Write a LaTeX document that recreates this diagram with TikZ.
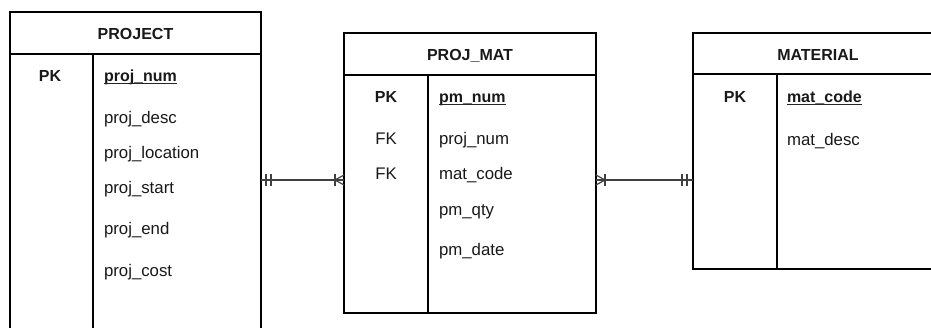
\documentclass[tikz,border=0pt]{standalone}
\usepackage{fontspec}
\setmainfont{Liberation Sans}
\begin{document}
\begin{tikzpicture}[x=1pt,y=-1pt,
  tbl/.style={draw=black,line width=1.1pt,rectangle,anchor=north west,inner sep=0pt,outer sep=0pt},
  sep/.style={draw=black,line width=1.1pt},
  txt/.style={inner sep=0pt,outer sep=0pt,anchor=base west,font=\fontsize{16.8}{20}\selectfont,text=black!90},
  bold/.style={inner sep=0pt,outer sep=0pt,anchor=base,font=\fontsize{16}{19}\selectfont\bfseries,text=black!90},
  key/.style={inner sep=0pt,outer sep=0pt,anchor=base west,font=\fontsize{16}{19}\selectfont\bfseries,text=black!90},
  ul/.style={draw=black!85,line width=0.9pt},
  rel/.style={draw=black!75,line width=1.2pt}]
\useasboundingbox (0,0) rectangle (931,327);
\fill[white] (0,0) rectangle (931,327);

% PROJECT
\node[tbl,minimum width=251pt,minimum height=340pt] (project) at (10,12) {};
\draw[sep] ([yshift=-42pt]project.north west) -- ([yshift=-42pt]project.north east);
\draw[sep] ([xshift=83pt,yshift=-42pt]project.north west) -- ([xshift=83pt]project.south west);
\node[bold] (ptitle) at (135.5,39) {PROJECT};
\node[bold] (ppk) at (50,81.5) {PK};
\node[key] (pnum) at (104,81.5) {proj\_num};
\draw[ul] ([yshift=-2pt]pnum.base west) -- ([yshift=-2pt]pnum.base east);
\node[txt] (pdesc) at (104,123.5) {proj\_desc};
\node[txt] (ploc) at (104,158.5) {proj\_location};
\node[txt] (pstart) at (104,193) {proj\_start};
\node[txt] (pend) at (104,234.5) {proj\_end};
\node[txt] (pcost) at (104,276) {proj\_cost};

% PROJ_MAT
\node[tbl,minimum width=252pt,minimum height=280pt] (pm) at (344,33) {};
\draw[sep] ([yshift=-42pt]pm.north west) -- ([yshift=-42pt]pm.north east);
\draw[sep] ([xshift=84pt,yshift=-42pt]pm.north west) -- ([xshift=84pt]pm.south west);
\node[bold] (mtitle) at (470,60) {PROJ\_MAT};
\node[bold] (mpk) at (386,102) {PK};
\node[key] (mnum) at (439,102) {pm\_num};
\draw[ul] ([yshift=-2pt]mnum.base west) -- ([yshift=-2pt]mnum.base east);
\node[txt,anchor=base] (mfk1) at (386,144) {FK};
\node[txt] (mproj) at (439,144) {proj\_num};
\node[txt,anchor=base] (mfk2) at (386,179.3) {FK};
\node[txt] (mmat) at (439,179.3) {mat\_code};
\node[txt] (mqty) at (439,215) {pm\_qty};
\node[txt] (mdate) at (439,255) {pm\_date};

% MATERIAL
\node[tbl,minimum width=250pt,minimum height=236pt] (material) at (693,33) {};
\draw[sep] ([yshift=-41pt]material.north west) -- ([yshift=-41pt]material.north east);
\draw[sep] ([xshift=84pt,yshift=-41pt]material.north west) -- ([xshift=84pt]material.south west);
\node[bold] (atitle) at (818,60.5) {MATERIAL};
\node[bold] (apk) at (735,102.5) {PK};
\node[key] (acode) at (787,102.5) {mat\_code};
\draw[ul] ([yshift=-2pt]acode.base west) -- ([yshift=-2pt]acode.base east);
\node[txt] (adesc) at (787,145) {mat\_desc};

% relationships
\coordinate (e1) at (project.east |- 0,180);
\coordinate (e2) at (pm.west |- 0,180);
\coordinate (e3) at (pm.east |- 0,180);
\coordinate (e4) at (material.west |- 0,180);
\draw[rel] (e1) -- (e2);
\draw[rel] (e1) ++(5,-6) -- ++(0,12);
\draw[rel] (e1) ++(10,-6) -- ++(0,12);
\draw[rel] (e2) ++(-9,-6) -- ++(0,12);
\draw[rel] (e2) ++(0,-5) -- ++(-9,5) -- ++(9,5);
\draw[rel] (e3) -- (e4);
\draw[rel] (e3) ++(9,-6) -- ++(0,12);
\draw[rel] (e3) ++(0,-5) -- ++(9,5) -- ++(-9,5);
\draw[rel] (e4) ++(-11,-6) -- ++(0,12);
\draw[rel] (e4) ++(-6,-6) -- ++(0,12);
\end{tikzpicture}
\end{document}
